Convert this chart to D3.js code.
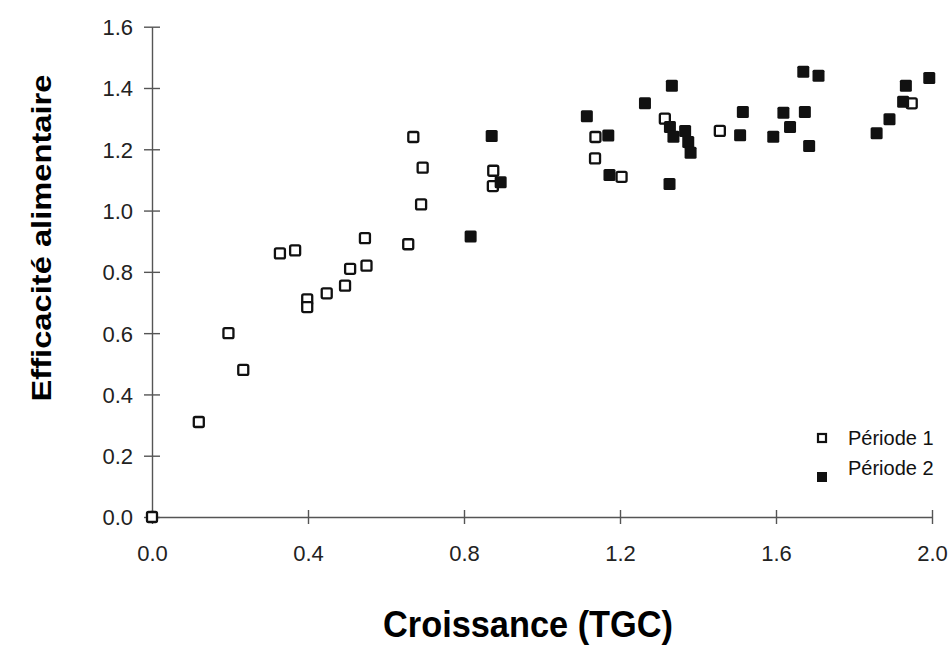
<!DOCTYPE html>
<html>
<head>
<meta charset="utf-8">
<script src="https://cdn.jsdelivr.net/npm/d3@7"></script>
<style>
  body { margin: 0; background: #fff; }
  svg { display: block; }
</style>
</head>
<body>
<div id="chart"></div>
<script>
// Période 1 (open squares)
const p1x = [0, 0.12, 0.196, 0.234, 0.328, 0.367, 0.398, 0.398, 0.448, 0.495, 0.508, 0.550, 0.546,
  0.657, 0.670, 0.690, 0.694, 0.874, 0.875, 1.136, 1.137, 1.204, 1.315, 1.456, 1.948];
const p1y = [0, 0.31, 0.60, 0.48, 0.86, 0.87, 0.71, 0.685, 0.73, 0.755, 0.81, 0.82, 0.91,
  0.89, 1.24, 1.02, 1.14, 1.08, 1.13, 1.17, 1.24, 1.11, 1.30, 1.26, 1.35];

// Période 2 (filled squares)
const p2x = [0.817, 0.871, 0.894, 1.115, 1.170, 1.173, 1.264, 1.333, 1.328, 1.337, 1.367, 1.375,
  1.381, 1.327, 1.508, 1.515, 1.593, 1.619, 1.636, 1.674, 1.685, 1.670, 1.709, 1.858, 1.891,
  1.926, 1.933, 1.993];
const p2y = [0.915, 1.243, 1.092, 1.308, 1.245, 1.116, 1.350, 1.407, 1.273, 1.241, 1.260, 1.224,
  1.189, 1.087, 1.246, 1.322, 1.241, 1.319, 1.273, 1.322, 1.211, 1.453, 1.440, 1.252, 1.298,
  1.355, 1.407, 1.433];

const xTicks = [0, 0.4, 0.8, 1.2, 1.6, 2.0];
const yTicks = [0, 0.2, 0.4, 0.6, 0.8, 1.0, 1.2, 1.4, 1.6];
const legendLabels = ['Période 1', 'Période 2'];

const width = 951, height = 646;
const svg = d3.select('#chart').append('svg')
  .attr('width', width)
  .attr('height', height)
  .style('font-family', '"Liberation Sans", Arial, sans-serif');

const x = d3.scaleLinear().domain([0, 2]).range([152, 932]);
const y = d3.scaleLinear().domain([0, 1.6]).range([517, 26.7]);

// axes
const yAxis = svg.append('g')
  .attr('transform', `translate(${x(0)},0)`)
  .call(d3.axisLeft(y).tickValues(yTicks).tickFormat(d3.format('.1f')).tickSizeOuter(0));
yAxis.select('.domain').attr('stroke', '#555').attr('stroke-width', 1.4);
yAxis.selectAll('.tick line').attr('x1', -8).attr('x2', 8).attr('stroke', '#555').attr('stroke-width', 1.4);
yAxis.selectAll('.tick text').attr('x', -19).attr('dy', '0.36em')
  .style('font-size', '22px').attr('fill', '#222');

const xAxis = svg.append('g')
  .attr('transform', `translate(0,${y(0)})`)
  .call(d3.axisBottom(x).tickValues(xTicks).tickFormat(d3.format('.1f')).tickSizeOuter(0));
xAxis.select('.domain').attr('stroke', '#555').attr('stroke-width', 1.4);
xAxis.selectAll('.tick line').attr('y1', -7).attr('y2', 7).attr('stroke', '#555').attr('stroke-width', 1.4);
xAxis.selectAll('.tick text').attr('y', 28)
  .style('font-size', '22px').attr('fill', '#222');

// axis titles
svg.append('text')
  .attr('x', 528).attr('y', 637)
  .attr('text-anchor', 'middle')
  .style('font-size', '37px').style('font-weight', 'bold')
  .attr('textLength', 290).attr('lengthAdjust', 'spacingAndGlyphs')
  .text('Croissance (TGC)');

svg.append('text')
  .attr('transform', 'translate(51,238) rotate(-90)')
  .attr('text-anchor', 'middle')
  .style('font-size', '27px').style('font-weight', 'bold')
  .attr('textLength', 327).attr('lengthAdjust', 'spacingAndGlyphs')
  .text('Efficacité alimentaire');

// points
const s1 = 10, s2 = 12;
svg.append('g').selectAll('rect')
  .data(p1x.map((d, i) => [d, p1y[i]]))
  .join('rect')
  .attr('x', d => x(d[0]) - s1 / 2)
  .attr('y', d => y(d[1]) - s1 / 2)
  .attr('width', s1).attr('height', s1)
  .attr('rx', 1.5)
  .attr('fill', '#fff')
  .attr('stroke', '#111')
  .attr('stroke-width', 2.3);

svg.append('g').selectAll('rect')
  .data(p2x.map((d, i) => [d, p2y[i]]))
  .join('rect')
  .attr('x', d => x(d[0]) - s2 / 2)
  .attr('y', d => y(d[1]) - s2 / 2)
  .attr('width', s2).attr('height', s2)
  .attr('rx', 1.5)
  .attr('fill', '#111');

// legend
const legend = svg.append('g');
legend.append('rect')
  .attr('x', 822 - s1 / 2 + 1).attr('y', 438 - s1 / 2 + 1)
  .attr('width', s1 - 2).attr('height', s1 - 2)
  .attr('fill', '#fff').attr('stroke', '#111').attr('stroke-width', 2.2);
legend.append('rect')
  .attr('x', 822 - 5).attr('y', 477 - 5)
  .attr('width', 10).attr('height', 10)
  .attr('fill', '#111');
legend.selectAll('text')
  .data(legendLabels)
  .join('text')
  .attr('x', 848)
  .attr('y', (d, i) => 438 + i * 30)
  .attr('dy', '0.36em')
  .style('font-size', '20px')
  .attr('fill', '#111')
  .text(d => d);
</script>
</body>
</html>
